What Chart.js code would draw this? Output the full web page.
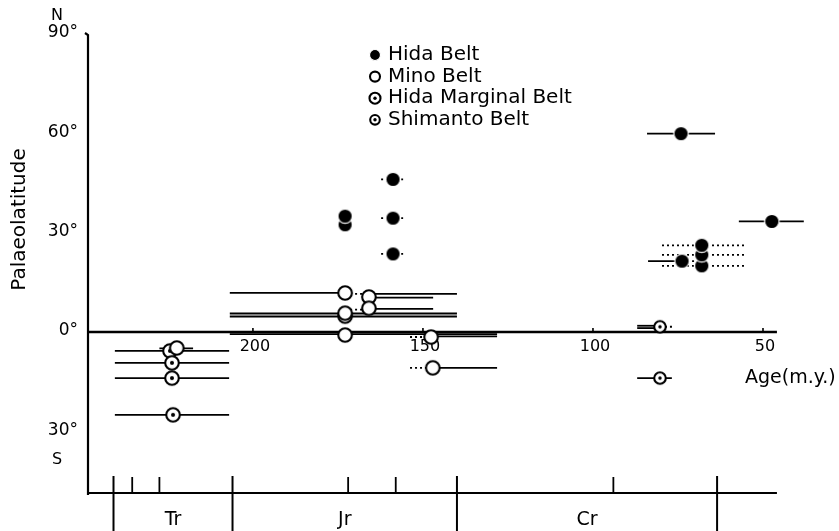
<!DOCTYPE html>
<html>
<head>
<meta charset="utf-8">
<script src="https://cdn.jsdelivr.net/npm/chart.js@4"></script>
<style>
  html, body { margin: 0; padding: 0; background: #fff; }
  canvas { display: block; }
</style>
</head>
<body>
<canvas id="chart" width="839" height="531"></canvas>
<script>
// ages in m.y., palaeolatitudes in degrees (south negative)
const hidaAge = [158.8, 172.9, 172.9, 158.8, 158.8, 74.1, 47.4, 68.0, 68.0, 68.0, 73.8];
const hidaLat = [46.1, 32.4, 35.0, 34.4, 23.6, 59.9, 33.4, 20.0, 23.3, 26.2, 21.4];
const minoAge = [222.4, 172.9, 165.9, 172.9, 172.9, 165.9, 172.9, 147.6, 147.1];
const minoLat = [-4.8, 11.8, 10.6, 4.8, 5.7, 7.2, -0.9, -1.5, -10.8];
const marginalAge = [224.4, 223.8, 223.8, 223.5];
const marginalLat = [-5.7, -9.3, -13.9, -25.0];
const shimantoAge = [80.3, 80.3];
const shimantoLat = [1.6, -13.9];

// age ranges drawn as horizontal bars (from older to younger age)
const rangeFrom = [240.6, 227.5, 240.6, 240.6, 240.6,
  206.8, 172.9, 165.9, 165.9, 206.8, 206.8, 165.9, 172.9, 206.8, 153.8, 147.6, 153.8, 147.1,
  162.3, 162.3, 162.3,
  84.1, 57.1, 79.7, 79.7, 79.7, 83.8, 73.8, 87.0, 87.0, 80.3, 87.0];
const rangeTo = [207.0, 217.6, 207.0, 207.0, 207.0,
  172.9, 165.9, 140.0, 147.0, 140.0, 140.0, 147.0, 165.9, 128.2, 147.6, 128.2, 147.1, 128.2,
  155.3, 155.3, 155.3,
  64.1, 38.0, 55.3, 55.3, 55.3, 73.8, 68.0, 80.3, 80.3, 76.0, 76.8];
const rangeLat = [-5.7, -4.9, -9.3, -13.9, -25.0,
  11.8, 11.5, 11.5, 10.4, 5.6, 4.7, 7.0, 6.8, -0.6, -1.5, -1.3, -10.8, -10.8,
  46.1, 34.4, 23.6,
  59.9, 33.4, 26.2, 23.3, 20.0, 21.4, 21.4, 1.9, 1.2, 1.6, -13.9];
const rangeDotted = [0, 0, 0, 0, 0,
  0, 1, 0, 0, 0, 0, 0, 1, 0, 1, 0, 1, 0,
  1, 1, 1,
  0, 0, 1, 1, 1, 0, 1, 0, 0, 1, 0];

const latTicks = [90, 60, 30, 0, -30];
const latTickLabels = ['90°', '60°', '30°', '0°', '30°'];
const ageTicks = [200, 150, 100, 50];
const periodBounds = [241, 206, 140, 63.5];
const periodNames = ['Tr', 'Jr', 'Cr'];
const stageTicks = [235.5, 227.5, 172, 158, 94];
const ageAxisEnd = 45.9;

const FONT = '"DejaVu Sans", sans-serif';

function drawMarker(ctx, type, x, y, r) {
  ctx.save();
  ctx.beginPath();
  ctx.arc(x, y, r, 0, Math.PI * 2);
  if (type === 'filled') {
    ctx.fillStyle = '#000';
    ctx.fill();
    ctx.lineWidth = 1.2;
    ctx.strokeStyle = '#fff';
    ctx.stroke();
  } else {
    ctx.fillStyle = '#fff';
    ctx.fill();
    ctx.lineWidth = 2.1;
    ctx.strokeStyle = '#000';
    ctx.stroke();
    if (type === 'dot') {
      ctx.beginPath();
      ctx.arc(x, y, Math.max(1.7, r * 0.3), 0, Math.PI * 2);
      ctx.fillStyle = '#000';
      ctx.fill();
    }
  }
  ctx.restore();
}

function markerImage(type, r) {
  const c = document.createElement('canvas');
  const s = Math.ceil(r * 2 + 4);
  c.width = s;
  c.height = s;
  drawMarker(c.getContext('2d'), type, s / 2, s / 2, r);
  return c;
}

const series = [
  { label: 'Hida Belt', type: 'filled', r: 7.2, lr: 5.5, ages: hidaAge, lats: hidaLat },
  { label: 'Mino Belt', type: 'open', r: 6.8, lr: 5, ages: minoAge, lats: minoLat },
  { label: 'Hida Marginal Belt', type: 'dot', r: 6.8, lr: 5.5, ages: marginalAge, lats: marginalLat },
  { label: 'Shimanto Belt', type: 'dot', r: 5.8, lr: 4.8, ages: shimantoAge, lats: shimantoLat },
];

const figure = {
  id: 'figure',
  beforeDatasetsDraw(chart) {
    const { ctx, scales: { x, y }, chartArea } = chart;
    ctx.save();
    ctx.strokeStyle = '#000';
    ctx.fillStyle = '#000';
    ctx.lineCap = 'butt';

    // age range bars
    rangeFrom.forEach((from, i) => {
      const py = y.getPixelForValue(rangeLat[i]);
      ctx.beginPath();
      ctx.lineWidth = 1.8;
      ctx.setLineDash(rangeDotted[i] ? [2, 3] : []);
      ctx.moveTo(x.getPixelForValue(from), py);
      ctx.lineTo(x.getPixelForValue(rangeTo[i]), py);
      ctx.stroke();
    });
    ctx.setLineDash([]);

    // left axis
    const left = chartArea.left;
    const bottom = chartArea.bottom;
    ctx.lineWidth = 2.2;
    ctx.beginPath();
    ctx.moveTo(left - 3, y.getPixelForValue(90) - 1);
    ctx.lineTo(left, y.getPixelForValue(90) + 1);
    ctx.lineTo(left, bottom + 2);
    ctx.stroke();

    // bottom time axis
    const xEnd = x.getPixelForValue(ageAxisEnd);
    ctx.beginPath();
    ctx.moveTo(left - 1, bottom);
    ctx.lineTo(xEnd, bottom);
    ctx.stroke();

    ctx.lineWidth = 2;
    periodBounds.forEach((b) => {
      const px = x.getPixelForValue(b);
      ctx.beginPath();
      ctx.moveTo(px, bottom - 17);
      ctx.lineTo(px, chart.height);
      ctx.stroke();
    });
    ctx.lineWidth = 1.8;
    stageTicks.forEach((t) => {
      const px = x.getPixelForValue(t);
      ctx.beginPath();
      ctx.moveTo(px, bottom - 16);
      ctx.lineTo(px, bottom);
      ctx.stroke();
    });

    ctx.font = '19px ' + FONT;
    ctx.textAlign = 'center';
    ctx.textBaseline = 'middle';
    periodNames.forEach((name, i) => {
      const cx = (x.getPixelForValue(periodBounds[i]) + x.getPixelForValue(periodBounds[i + 1])) / 2;
      ctx.fillText(name, cx, bottom + 27);
    });

    // equator line with age ticks
    const y0 = y.getPixelForValue(0);
    ctx.lineWidth = 2.6;
    ctx.beginPath();
    ctx.moveTo(left, y0);
    ctx.lineTo(xEnd, y0);
    ctx.stroke();
    ctx.lineWidth = 1.6;
    ctx.font = '16px ' + FONT;
    ageTicks.forEach((a) => {
      const px = x.getPixelForValue(a);
      ctx.beginPath();
      ctx.moveTo(px, y0);
      ctx.lineTo(px, y0 - 4);
      ctx.stroke();
      ctx.fillText(String(a), px + 2, y0 + 15);
    });

    ctx.font = '19px ' + FONT;
    ctx.textAlign = 'left';
    ctx.fillText('Age(m.y.)', x.getPixelForValue(55.3), y.getPixelForValue(-13.9));

    // latitude labels
    ctx.font = '17px ' + FONT;
    ctx.textAlign = 'right';
    latTicks.forEach((v, i) => {
      ctx.fillText(latTickLabels[i], left - 10, y.getPixelForValue(v) - 1);
    });
    ctx.textAlign = 'center';
    ctx.font = '16px ' + FONT;
    ctx.fillText('N', left - 31, y.getPixelForValue(90) - 18);
    ctx.fillText('S', left - 31, y.getPixelForValue(-30) + 28);

    ctx.save();
    ctx.translate(20, y.getPixelForValue(34));
    ctx.rotate(-Math.PI / 2);
    ctx.font = '20px ' + FONT;
    ctx.fillText('Palaeolatitude', 0, 0);
    ctx.restore();

    ctx.restore();
  },
  afterDraw(chart) {
    const ctx = chart.ctx;
    ctx.save();
    ctx.fillStyle = '#000';
    ctx.font = '20px ' + FONT;
    ctx.textAlign = 'left';
    ctx.textBaseline = 'middle';
    series.forEach((s, i) => {
      const ly = 55 + i * 21.6;
      drawMarker(ctx, s.type, 375, ly, s.lr);
      ctx.fillText(s.label, 388, ly);
    });
    ctx.restore();
  },
};

new Chart(document.getElementById('chart'), {
  type: 'scatter',
  data: {
    datasets: series.map((s) => ({
      label: s.label,
      data: s.ages.map((a, i) => ({ x: a, y: s.lats[i] })),
      pointStyle: markerImage(s.type, s.r),
      pointRadius: s.r,
      showLine: false,
    })),
  },
  options: {
    responsive: false,
    devicePixelRatio: 1,
    animation: false,
    layout: { padding: { left: 88, right: 25, top: 34, bottom: 38 } },
    scales: {
      x: { type: 'linear', reverse: true, min: 35, max: 248.5, display: false },
      y: { type: 'linear', min: -48.6, max: 90, display: false },
    },
    plugins: {
      legend: { display: false },
      tooltip: { enabled: false },
    },
  },
  plugins: [figure],
});
</script>
</body>
</html>
